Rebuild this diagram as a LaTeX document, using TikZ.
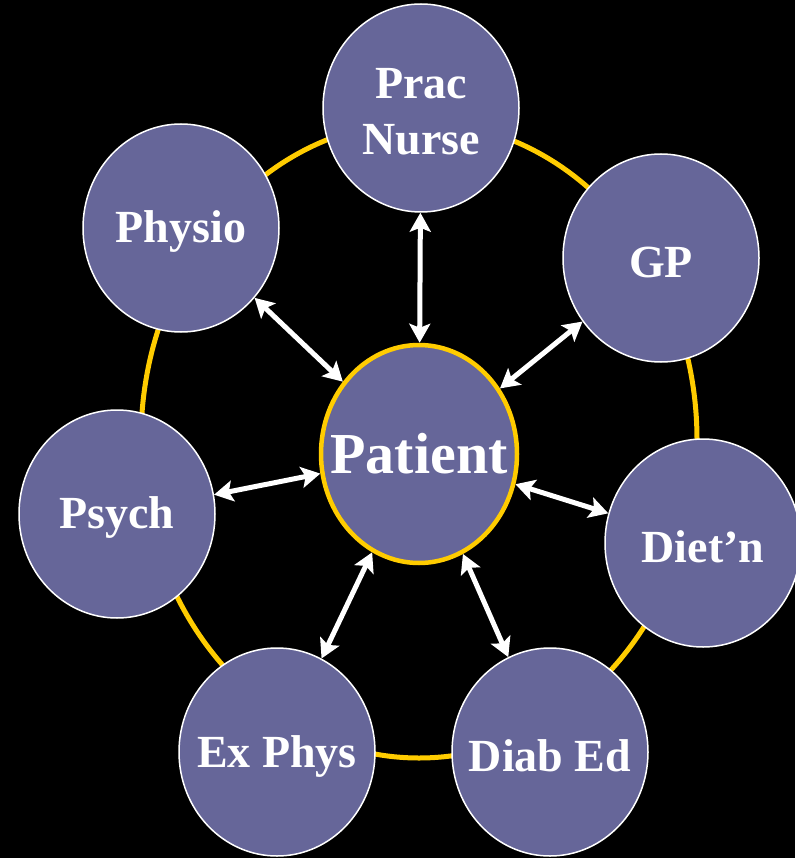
\documentclass[tikz,border=0pt]{standalone}
\usepackage{fontspec}
\setmainfont{Liberation Serif}
\usetikzlibrary{shapes.geometric,arrows.meta}
\usepackage{xcolor}
\definecolor{carepurple}{RGB}{102,102,153}
\definecolor{careyellow}{RGB}{255,204,0}

\begin{document}
\begin{tikzpicture}[x=1pt,y=-1pt]
\tikzstyle{basenode}=[ellipse, inner sep=0pt, fill=carepurple];
\tikzstyle{member}=[basenode, draw=white, line width=1.5pt, minimum width=196pt, minimum height=208pt];
\tikzstyle{centre}=[basenode, draw=careyellow, line width=4.5pt, minimum width=196pt, minimum height=218pt];
\tikzstyle{lbl}=[white, align=center, yshift=-4pt, font=\fontsize{46}{56}\selectfont\bfseries];
\tikzstyle{biglbl}=[white, align=center, font=\fontsize{58}{64}\selectfont\bfseries];
\tikzstyle{ring}=[careyellow, line width=5pt];
\tikzstyle{arr}=[white, line width=5pt, {Stealth[length=19pt,width=21pt,inset=4pt]}-{Stealth[length=19pt,width=21pt,inset=4pt]}];

\useasboundingbox (0,0) rectangle (795,858);
\fill[black] (0,0) rectangle (795,858);

% team ring
\draw[ring] (419,440) ellipse [x radius=278, y radius=318];

\node[centre, label={[biglbl]center:Patient}] (patient) at (419,454) {};

\node[member, label={[lbl]center:{Prac\\Nurse}}] (prac) at (421,108) {};
\node[member, label={[lbl]center:GP}] (gp) at (661,258) {};
\node[member, label={[lbl]center:Diet'n}] (dietn) at (703,543) {};
\node[member, label={[lbl]center:Diab Ed}] (diabed) at (550,752) {};
\node[member, label={[lbl]center:Ex Phys}] (exphys) at (277,752) {};
\node[member, label={[lbl]center:Psych}] (psych) at (117,514) {};
\node[member, label={[lbl]center:Physio}] (physio) at (181,228) {};

\foreach \m in {prac,gp,dietn,diabed,exphys,psych,physio}
  \draw[arr] (\m) -- (patient);

\end{tikzpicture}
\end{document}
